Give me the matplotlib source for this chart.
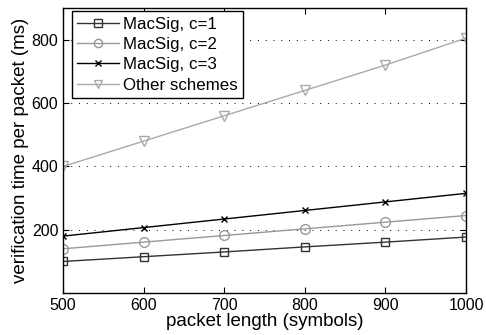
import matplotlib
matplotlib.use("Agg")
import matplotlib.pyplot as plt

plt.rcParams['font.family'] = ['Liberation Sans', 'DejaVu Sans']

# packet length (symbols)
lengths = [500, 600, 700, 800, 900, 1000]

# verification time per packet (ms)
macsig_c1 = [100, 115, 130, 146, 161, 177]
macsig_c2 = [140, 161, 182, 203, 224, 245]
macsig_c3 = [180, 207, 234, 261, 288, 315]
other = [400, 480, 560, 640, 720, 805]

fig = plt.figure(figsize=(4.86, 3.35), dpi=100)
ax = fig.add_axes([0.13, 0.125, 0.829, 0.851])

ax.plot(lengths, macsig_c1, color='#333333', marker='s', mfc='none', ms=6, lw=1, label='MacSig, c=1')
ax.plot(lengths, macsig_c2, color='#999999', marker='o', mfc='none', ms=7, lw=1, label='MacSig, c=2')
ax.plot(lengths, macsig_c3, color='black', marker='x', ms=5, lw=1, label='MacSig, c=3')
ax.plot(lengths, other, color='#aaaaaa', marker='v', mfc='none', ms=7, lw=1, label='Other schemes')

ax.set_xlim(500, 1000)
ax.set_ylim(0, 900)
ax.set_xticks(lengths)
ax.set_yticks([200, 400, 600, 800])
ax.yaxis.grid(True, linestyle=(0, (1, 7)), color='black', lw=0.7)
ax.tick_params(direction='in', top=True, right=True, labelsize=11.5, length=4)
for s in ax.spines.values():
    s.set_linewidth(1)

ax.set_xlabel('packet length (symbols)', fontsize=13.5, labelpad=0)
ax.set_ylabel('verification time per packet (ms)', fontsize=13.5, labelpad=2)

leg = ax.legend(loc='upper left', fontsize=12.2, fancybox=False, framealpha=1,
                edgecolor='black', bbox_to_anchor=(0.022, 0.988), borderaxespad=0,
                handlelength=2.5, handletextpad=0.2, labelspacing=0.32,
                borderpad=0.3, markerscale=0.85)
leg.get_frame().set_linewidth(1)

fig.savefig('out.png', dpi=100)
